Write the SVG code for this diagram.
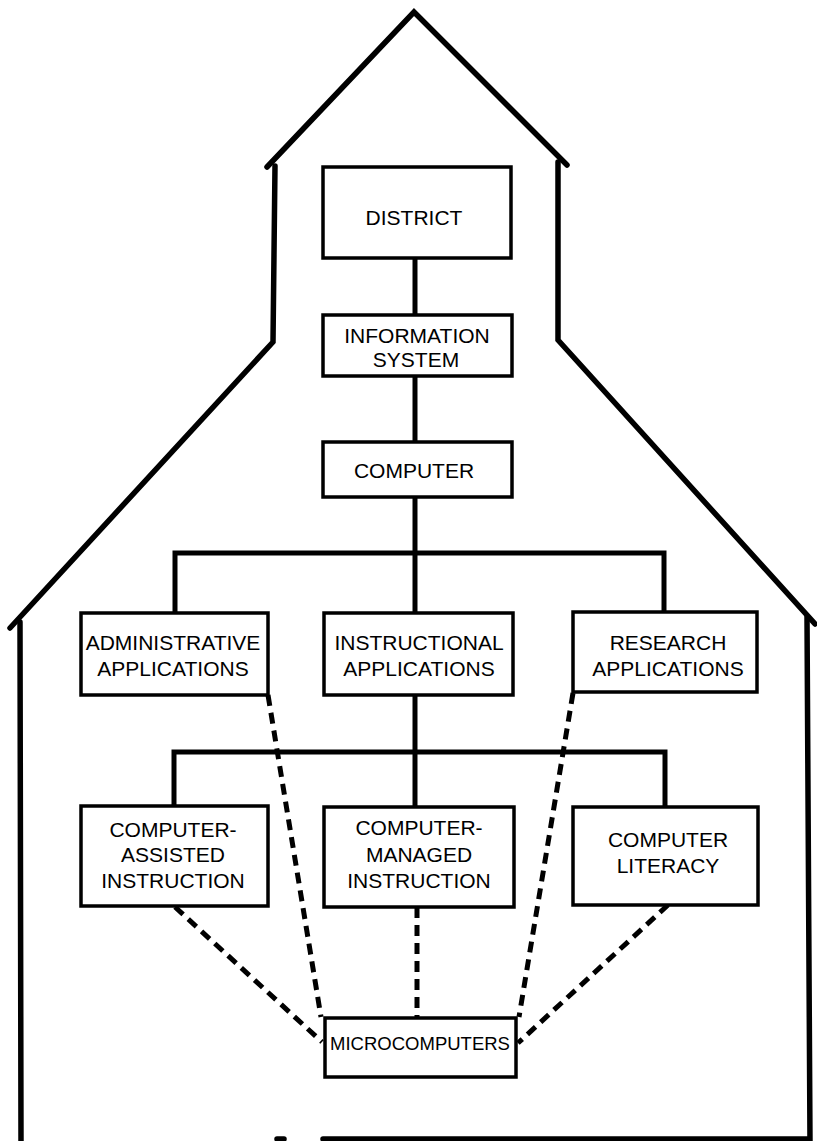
<svg xmlns="http://www.w3.org/2000/svg" width="817" height="1141" viewBox="0 0 817 1141">
<style>
.house{fill:none;stroke:#000;stroke-width:5.5;stroke-linejoin:miter;stroke-linecap:round}
.box{fill:#fff;stroke:#000;stroke-width:3.5}
.solid{fill:none;stroke:#000;stroke-width:5}
.dash{fill:none;stroke:#000;stroke-width:5;stroke-dasharray:11 7}
text{font-family:"Liberation Sans",Arial,sans-serif;font-size:21px;fill:#000;text-anchor:middle}
.small{font-size:18.5px}
</style>
<rect width="817" height="1141" fill="#fff"/>
<g id="house">
<path class="house" d="M267 167 L414 12 L567 165"/>
<path class="house" d="M275 166 L273 342 L10 628"/>
<path class="house" d="M20 622 L21 1141"/>
<path class="house" d="M558 162 L558 340 L815 624"/>
<path class="house" d="M807 617 L810 1141"/>
<path class="house" d="M323 1139 L808 1139"/>
<path class="house" d="M277 1139 L284 1139"/>
</g>
<g id="connectors">
<path class="solid" d="M415 258 V315"/>
<path class="solid" d="M415 377 V442"/>
<path class="solid" d="M415 497 V613"/>
<path class="solid" d="M175 613 V553 H664 V612"/>
<path class="solid" d="M415 695 V806"/>
<path class="solid" d="M174 806 V752 H665 V806"/>
<path class="dash" d="M268 695 L321 1017"/>
<path class="dash" d="M573 693 L519 1017"/>
<path class="dash" d="M175 907 L322 1042"/>
<path class="dash" d="M417 907 V1018"/>
<path class="dash" d="M668 905 L518 1043"/>
</g>
<g id="district">
<rect class="box" x="323" y="167" width="188" height="91"/>
<text x="414" y="225">DISTRICT</text>
</g>
<g id="information-system">
<rect class="box" x="323" y="315" width="189" height="61"/>
<text x="417" y="343">INFORMATION</text>
<text x="416" y="367">SYSTEM</text>
</g>
<g id="computer">
<rect class="box" x="323" y="442" width="189" height="55"/>
<text x="414" y="478">COMPUTER</text>
</g>
<g id="administrative">
<rect class="box" x="81" y="613" width="187" height="82"/>
<text x="173" y="650">ADMINISTRATIVE</text>
<text x="173" y="676">APPLICATIONS</text>
</g>
<g id="instructional">
<rect class="box" x="324" y="613" width="189" height="82"/>
<text x="419" y="650">INSTRUCTIONAL</text>
<text x="419" y="676">APPLICATIONS</text>
</g>
<g id="research">
<rect class="box" x="573" y="612" width="184" height="80"/>
<text x="668" y="650">RESEARCH</text>
<text x="668" y="676">APPLICATIONS</text>
</g>
<g id="computer-assisted">
<rect class="box" x="81" y="806" width="187" height="100"/>
<text x="173" y="837">COMPUTER-</text>
<text x="173" y="862">ASSISTED</text>
<text x="173" y="888">INSTRUCTION</text>
</g>
<g id="computer-managed">
<rect class="box" x="324" y="807" width="190" height="100"/>
<text x="419" y="835">COMPUTER-</text>
<text x="419" y="862">MANAGED</text>
<text x="419" y="888">INSTRUCTION</text>
</g>
<g id="computer-literacy">
<rect class="box" x="573" y="807" width="185" height="98"/>
<text x="668" y="847">COMPUTER</text>
<text x="668" y="873">LITERACY</text>
</g>
<g id="microcomputers">
<rect class="box" x="325" y="1018" width="191" height="59"/>
<text class="small" x="420" y="1050">MICROCOMPUTERS</text>
</g>
</svg>
